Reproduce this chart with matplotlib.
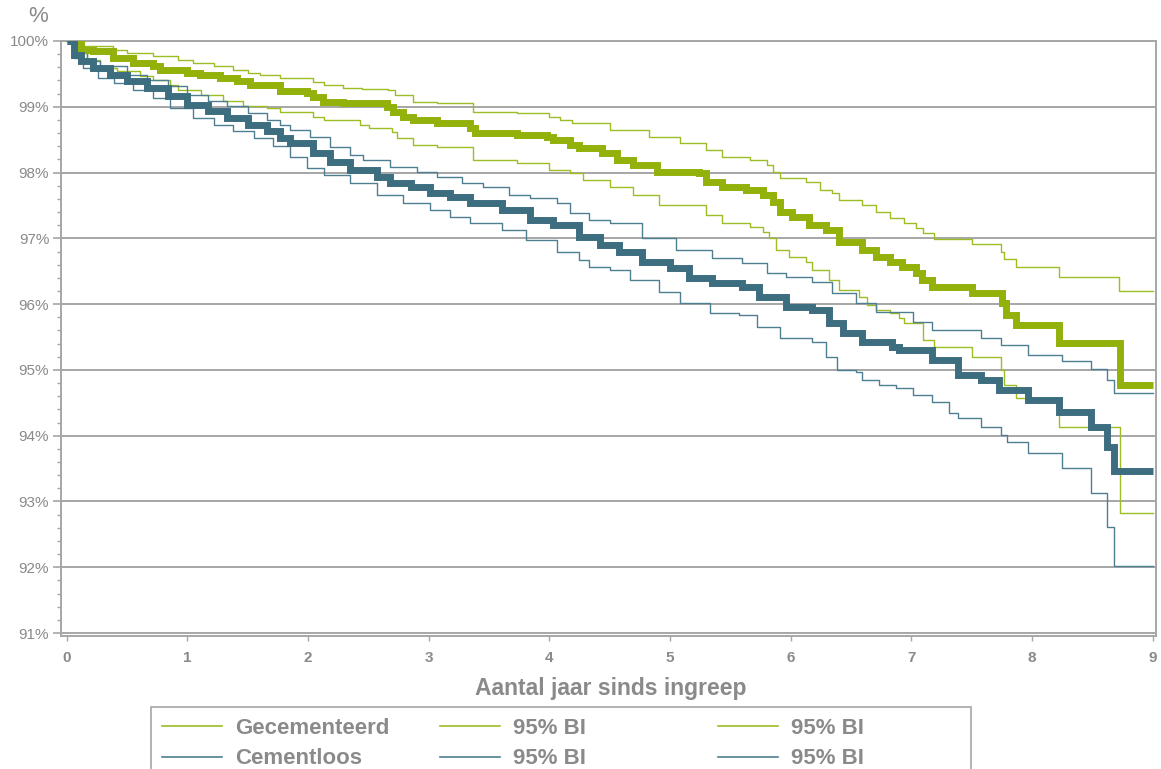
import matplotlib
matplotlib.use("Agg")
import matplotlib.pyplot as plt
from matplotlib.lines import Line2D
from matplotlib.patches import Rectangle
from matplotlib.ticker import FixedLocator, MultipleLocator

# ---------------- data (years since surgery, survival %) ----------------
gec_x = [0, 0.116, 0.223, 0.389, 0.554, 0.72, 0.778, 1.0, 1.108, 1.274, 1.414, 1.522, 1.77, 1.993,
         2.043, 2.126, 2.29, 2.655, 2.705, 2.787, 2.87, 3.069, 3.342, 3.383, 3.73, 3.98, 4.03, 4.17,
         4.25, 4.44, 4.56, 4.69, 4.89, 5.24, 5.30, 5.43, 5.63, 5.77, 5.85, 5.91, 6.01, 6.15, 6.29,
         6.40, 6.59, 6.71, 6.82, 6.92, 7.04, 7.09, 7.17, 7.50, 7.75, 7.78, 7.87, 8.22, 8.73, 9.0]
gec_y = [100, 99.86, 99.85, 99.74, 99.67, 99.62, 99.56, 99.51, 99.48, 99.44, 99.39, 99.33, 99.24, 99.21,
         99.15, 99.07, 99.06, 99.00, 98.92, 98.84, 98.80, 98.75, 98.68, 98.60, 98.57, 98.54, 98.50, 98.42,
         98.37, 98.30, 98.19, 98.12, 98.01, 97.99, 97.86, 97.78, 97.74, 97.66, 97.55, 97.40, 97.33, 97.20, 97.13,
         96.95, 96.82, 96.72, 96.64, 96.57, 96.47, 96.37, 96.26, 96.17, 96.02, 95.84, 95.68, 95.41, 94.77, 94.77]

gec_up_x = [0, 0.116, 0.389, 0.50, 0.72, 0.92, 1.05, 1.22, 1.38, 1.50, 1.60, 1.77, 2.04, 2.13, 2.29,
            2.45, 2.66, 2.72, 2.87, 3.07, 3.37, 3.73, 4.00, 4.09, 4.19, 4.50, 4.83, 5.08, 5.30, 5.43,
            5.66, 5.80, 5.85, 5.91, 6.13, 6.24, 6.34, 6.40, 6.59, 6.71, 6.82, 6.94, 7.04, 7.10, 7.19,
            7.50, 7.74, 7.77, 7.87, 8.22, 8.72, 9.0]
gec_up_y = [100, 99.92, 99.86, 99.82, 99.77, 99.71, 99.67, 99.62, 99.56, 99.51, 99.48, 99.44, 99.38, 99.33, 99.29,
            99.27, 99.26, 99.18, 99.07, 99.06, 98.92, 98.91, 98.84, 98.80, 98.75, 98.65, 98.54, 98.45, 98.34, 98.24,
            98.19, 98.12, 98.01, 97.92, 97.86, 97.74, 97.69, 97.58, 97.51, 97.40, 97.31, 97.23, 97.16, 97.08, 96.99,
            96.91, 96.79, 96.69, 96.57, 96.41, 96.20, 96.20]

gec_lo_x = [0, 0.09, 0.17, 0.28, 0.42, 0.61, 0.72, 0.86, 0.92, 1.11, 1.30, 1.46, 1.66, 1.77, 2.04, 2.13,
            2.43, 2.51, 2.70, 2.74, 2.87, 3.07, 3.37, 3.73, 4.00, 4.17, 4.28, 4.50, 4.69, 4.91, 5.30,
            5.43, 5.66, 5.77, 5.82, 5.88, 5.99, 6.13, 6.18, 6.32, 6.40, 6.57, 6.63, 6.71, 6.82, 6.90,
            6.94, 7.10, 7.19, 7.50, 7.74, 7.77, 7.87, 8.22, 8.73, 9.0]
gec_lo_y = [100, 99.82, 99.71, 99.59, 99.54, 99.47, 99.41, 99.33, 99.26, 99.18, 99.09, 99.01, 98.98, 98.92, 98.84, 98.80,
            98.72, 98.68, 98.62, 98.53, 98.42, 98.39, 98.19, 98.15, 98.04, 97.99, 97.89, 97.78, 97.66, 97.51, 97.36,
            97.23, 97.17, 97.10, 97.01, 96.82, 96.72, 96.64, 96.52, 96.37, 96.22, 96.11, 95.99, 95.91, 95.87, 95.79,
            95.71, 95.46, 95.35, 95.20, 95.00, 94.77, 94.57, 94.13, 92.83, 92.83]

cem_x = [0, 0.06, 0.12, 0.22, 0.36, 0.50, 0.67, 0.84, 1.00, 1.17, 1.33, 1.50, 1.66, 1.77, 1.85, 2.04,
         2.18, 2.35, 2.57, 2.68, 2.85, 3.01, 3.18, 3.34, 3.61, 3.84, 4.03, 4.25, 4.42, 4.58, 4.77,
         5.00, 5.16, 5.35, 5.60, 5.74, 5.96, 6.18, 6.32, 6.43, 6.59, 6.84, 6.90, 7.17, 7.39, 7.58,
         7.73, 7.97, 8.22, 8.49, 8.62, 8.68, 9.0]
cem_y = [100, 99.79, 99.70, 99.59, 99.48, 99.39, 99.29, 99.16, 99.03, 98.94, 98.83, 98.72, 98.63, 98.53, 98.45, 98.30,
         98.16, 98.04, 97.93, 97.84, 97.78, 97.69, 97.63, 97.54, 97.43, 97.28, 97.20, 97.02, 96.90, 96.79, 96.64,
         96.55, 96.40, 96.32, 96.26, 96.11, 95.96, 95.91, 95.71, 95.56, 95.43, 95.35, 95.30, 95.15, 94.92, 94.85,
         94.70, 94.54, 94.36, 94.13, 93.83, 93.47, 93.47]

cem_up_x = [0, 0.06, 0.17, 0.28, 0.50, 0.67, 0.84, 1.00, 1.17, 1.33, 1.50, 1.66, 1.77, 1.85, 2.02, 2.18,
            2.35, 2.46, 2.68, 2.90, 3.07, 3.28, 3.45, 3.67, 3.84, 4.06, 4.17, 4.33, 4.50, 4.77, 5.05,
            5.35, 5.60, 5.80, 5.96, 6.18, 6.34, 6.54, 6.71, 7.01, 7.17, 7.58, 7.74, 7.97, 8.25, 8.49,
            8.62, 8.68, 9.0]
cem_up_y = [100, 99.85, 99.70, 99.62, 99.48, 99.41, 99.32, 99.18, 99.09, 99.01, 98.91, 98.80, 98.72, 98.65, 98.54, 98.39,
            98.27, 98.19, 98.09, 98.01, 97.93, 97.84, 97.78, 97.66, 97.61, 97.54, 97.39, 97.28, 97.23, 97.01, 96.82,
            96.70, 96.63, 96.47, 96.41, 96.34, 96.17, 96.02, 95.88, 95.73, 95.61, 95.49, 95.38, 95.23, 95.14, 95.02,
            94.85, 94.65, 94.65]

cem_lo_x = [0, 0.06, 0.14, 0.26, 0.39, 0.55, 0.72, 0.86, 1.05, 1.22, 1.38, 1.55, 1.71, 1.85, 1.99, 2.13,
            2.35, 2.57, 2.79, 3.01, 3.18, 3.34, 3.61, 3.81, 4.06, 4.25, 4.33, 4.50, 4.67, 4.91, 5.08,
            5.33, 5.57, 5.72, 5.91, 6.18, 6.29, 6.38, 6.54, 6.59, 6.73, 6.87, 7.01, 7.17, 7.31, 7.39,
            7.58, 7.74, 7.79, 7.97, 8.25, 8.49, 8.62, 8.68, 9.0]
cem_lo_y = [100, 99.74, 99.59, 99.44, 99.36, 99.26, 99.13, 98.98, 98.83, 98.72, 98.63, 98.53, 98.40, 98.24, 98.07, 97.96,
            97.84, 97.66, 97.54, 97.43, 97.33, 97.23, 97.13, 96.98, 96.79, 96.67, 96.57, 96.52, 96.37, 96.19, 96.02,
            95.87, 95.84, 95.65, 95.49, 95.43, 95.20, 95.00, 94.97, 94.85, 94.77, 94.73, 94.62, 94.51, 94.35, 94.27,
            94.13, 94.01, 93.91, 93.74, 93.51, 93.13, 92.61, 92.02, 92.02]

x_ticks = [0, 1, 2, 3, 4, 5, 6, 7, 8, 9]
y_ticks = [91, 92, 93, 94, 95, 96, 97, 98, 99, 100]
y_tick_labels = ["91%", "92%", "93%", "94%", "95%", "96%", "97%", "98%", "99%", "100%"]

legend_labels = [["Gecementeerd", "95% BI", "95% BI"], ["Cementloos", "95% BI", "95% BI"]]
x_label = "Aantal jaar sinds ingreep"
y_unit = "%"

# ---------------- style ----------------
GREEN = "#92B10A"
GREEN_T = "#9DBD24"
BLUE = "#3C6E80"
BLUE_T = "#4E7F91"
GRAY = "#8A8A8A"
GRID = "#A6A6A6"
FONT = "Liberation Sans"

W, H = 1161, 769
fig = plt.figure(figsize=(W / 100, H / 100), dpi=100)
ax = fig.add_axes([61 / W, 1 - 636 / H, (1156 - 61) / W, (636 - 41) / H])

# thin CI lines
ax.plot(gec_up_x, gec_up_y, drawstyle="steps-post", color=GREEN_T, lw=1.0, zorder=3)
ax.plot(gec_lo_x, gec_lo_y, drawstyle="steps-post", color=GREEN_T, lw=1.0, zorder=3)
ax.plot(cem_up_x, cem_up_y, drawstyle="steps-post", color=BLUE_T, lw=1.0, zorder=3)
ax.plot(cem_lo_x, cem_lo_y, drawstyle="steps-post", color=BLUE_T, lw=1.0, zorder=3)
# main lines
ax.plot(gec_x, gec_y, drawstyle="steps-post", color=GREEN, lw=5.0, zorder=4,
        solid_joinstyle="miter", solid_capstyle="butt")
ax.plot(cem_x, cem_y, drawstyle="steps-post", color=BLUE, lw=5.0, zorder=4,
        solid_joinstyle="miter", solid_capstyle="butt")

ax.set_xlim(-0.046, 9.027)
ax.set_ylim(90.955, 100)

ax.xaxis.set_major_locator(FixedLocator(x_ticks))
ax.set_xticklabels([str(v) for v in x_ticks])
ax.yaxis.set_major_locator(FixedLocator(y_ticks))
ax.set_yticklabels(y_tick_labels)
ax.yaxis.set_minor_locator(MultipleLocator(0.2))

ax.grid(axis="y", which="major", color=GRID, lw=1.4, zorder=1)
ax.set_axisbelow(True)

for s in ["left", "bottom", "right", "top"]:
    ax.spines[s].set_color(GRID)
    ax.spines[s].set_linewidth(1.4)

ax.tick_params(axis="y", which="major", direction="out", length=5.5, width=1.2, color=GRID,
               labelsize=11, labelcolor=GRAY, pad=3)
ax.tick_params(axis="y", which="minor", direction="out", length=3, width=1.0, color=GRID)
ax.tick_params(axis="x", which="major", direction="out", length=3.5, width=1.0, color=GRID,
               labelsize=11, labelcolor=GRAY, pad=7)
for lab in ax.get_xticklabels() + ax.get_yticklabels():
    lab.set_fontfamily(FONT)
for lab in ax.get_xticklabels():
    lab.set_fontweight("bold")

fig.text(38 / W, 1 - 17 / H, y_unit, ha="center", va="center", fontsize=16,
         color=GRAY, family=FONT)
fig.text(611 / W, 1 - 688 / H, x_label, ha="center", va="center", fontsize=16.5,
         color=GRAY, family=FONT, fontweight="bold")

# ---------------- legend (drawn manually) ----------------
box = Rectangle((151 / W, 1 - 780 / H), (971 - 151) / W, (780 - 707) / H,
                transform=fig.transFigure, fill=False, edgecolor=GRID, lw=1.2)
fig.patches.append(box)
col_x = [162, 440, 718]
row_y = [726, 757]
row_colors = [GREEN_T, BLUE_T]
for r in range(2):
    for c in range(3):
        x0 = col_x[c]
        y0 = row_y[r]
        fig.lines.append(Line2D([x0 / W, (x0 + 60) / W], [1 - y0 / H, 1 - y0 / H],
                                transform=fig.transFigure, color=row_colors[r], lw=1.2))
        fig.text((x0 + 73) / W, 1 - (y0 + 2) / H, legend_labels[r][c], ha="left", va="center",
                 fontsize=16, color=GRAY, family=FONT, fontweight="bold")

fig.savefig("out.png", dpi=100)
